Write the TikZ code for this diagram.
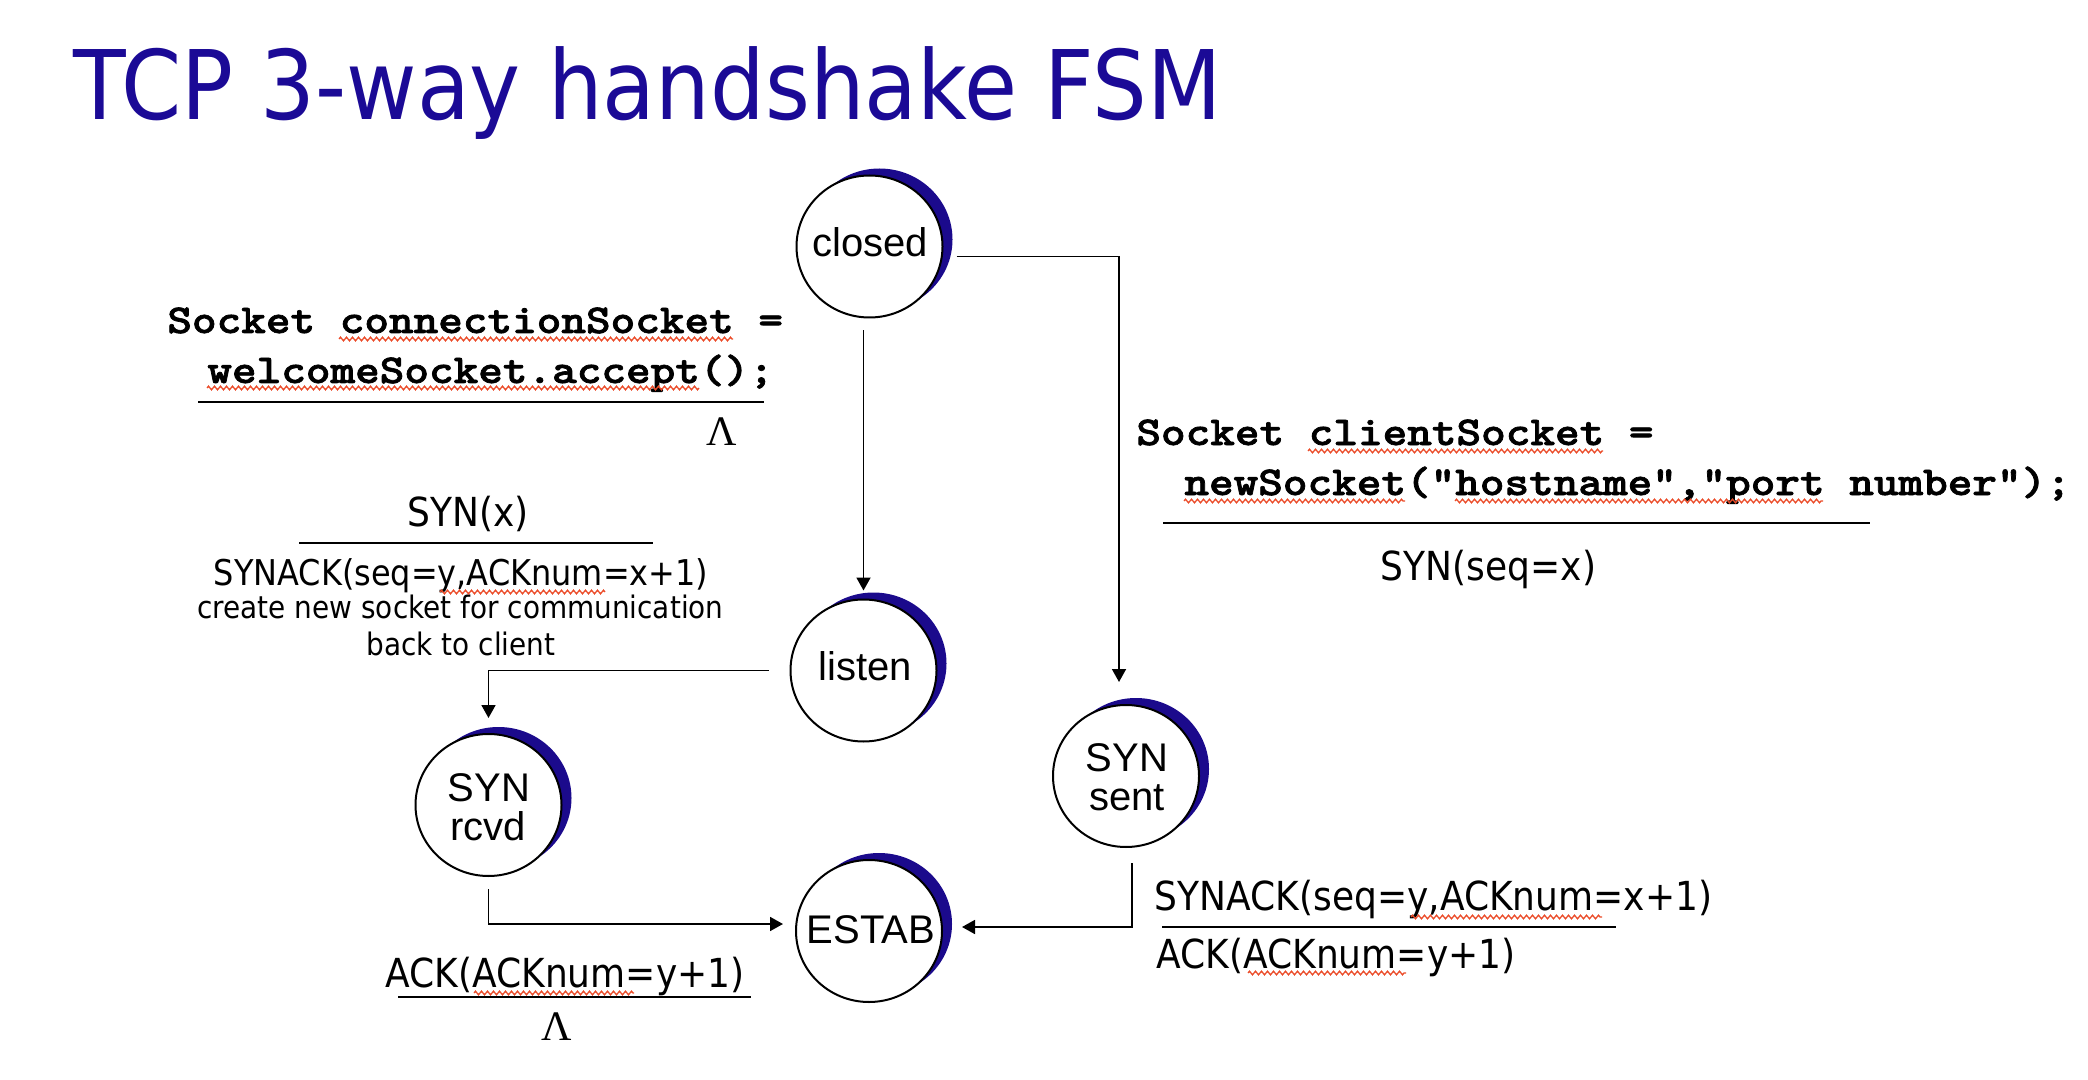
\documentclass[tikz,border=0pt]{standalone}
\usepackage{graphicx}
\usepackage{fontspec}
\setmainfont{Liberation Sans}
\newfontfamily\labelfont{DejaVu Sans}
\newfontfamily\lambdafont{Liberation Serif}
\newfontfamily\codefont{lmmonolt10-bold}[Extension=.otf, FakeBold=1.6]
\usetikzlibrary{shapes.geometric,arrows.meta,calc,shadows,decorations.pathmorphing}

\definecolor{slideblue}{RGB}{27,10,150}
\definecolor{crescent}{RGB}{27,10,140}
\definecolor{spell}{RGB}{235,75,40}

% font size helper (size in pt)
\newcommand\setsz[1]{\fontsize{#1pt}{1.2\dimexpr #1pt\relax}\selectfont}
% transition labels: narrow humanist sans
\newcommand\trans[2]{{\labelfont\setsz{#1}\scalebox{0.9}[1]{#2}}}
% socket code in heavy typewriter
\newcommand\code[1]{{\codefont\setsz{20.5}\scalebox{1.144}[1]{#1}}}

\tikzset{
  state/.style={ellipse, draw, line width=1pt, fill=white,
    minimum width=73pt, minimum height=71pt, inner sep=0pt,
    drop shadow={fill=crescent, opacity=1, shadow xshift=5pt, shadow yshift=3.5pt}},
  txt/.style={inner sep=0pt, anchor=base},
  codeline/.style={inner sep=0pt, anchor=base west},
  arr/.style={-{Triangle[length=6.5pt,width=7pt]}, line width=0.9pt},
  fracrule/.style={line width=1pt},
  squig/.style={spell, line width=0.65pt, decorate,
    decoration={zigzag, segment length=3pt, amplitude=0.9pt}}
}

\begin{document}
\begin{tikzpicture}[x=0.5pt, y=-0.5pt]
\useasboundingbox (0,0) rectangle (2088,1080);

% title
\node[anchor=base west, inner sep=0pt, text=slideblue] (title) at (73,120)
  {\labelfont\setsz{48}\scalebox{0.898}[1]{TCP 3-way handshake FSM}};

% states
\node[state] (closed)  at (869.5,246.5) {};
\node[state] (listen)  at (863.5,670.5) {};
\node[state] (synrcvd) at (488.5,805) {};
\node[state] (synsent) at (1126,776) {};
\node[state] (estab)   at (869,931) {};

\node[txt, font=\setsz{20}] (closedtext) at (870,257) {closed};
\node[txt, font=\setsz{20}] (listentext) at (865,680) {listen};
\node[txt, font=\setsz{20}] (synrcvdtop) at (489,801) {SYN};
\node[txt, font=\setsz{20}] (synrcvdbot) at (488,840) {rcvd};
\node[txt, font=\setsz{20}] (synsenttop) at (1127,771) {SYN};
\node[txt, font=\setsz{20}] (synsentbot) at (1127,810) {sent};
\node[txt, font=\setsz{20}] (estabtext)  at (871,943) {ESTAB};

% transitions
\draw[arr] ($(closed.south -| listen.center)+(0,12)$) -- ($(listen.north)+(0,-8)$);
\draw[arr] ($(closed.east)+(13,10)$) -| ($(synsent.north)+(-7,-22)$);
\draw[arr] ($(listen.west)+(-21,0)$) -| ($(synrcvd.north)+(0,-15)$);
\draw[arr] ($(synrcvd.south)+(0,12)$) |- ($(estab.west)+(-12,-7)$);
\draw[arr] ($(synsent.south)+(6,15)$) |- ($(estab.east)+(19,-4)$);

% server side: accept
\node[codeline] (acc1) at (167,333) {\code{Socket connectionSocket =}};
\node[codeline] (acc2) at (207,383) {\code{welcomeSocket.accept();}};
\draw[fracrule] (198,402) -- (764,402);
\node[txt] (acclambda) at (722,445) {\lambdafont\setsz{21}Λ};

% listen -> SYN rcvd
\node[txt] (synx) at (468,526) {\trans{20}{SYN(x)}};
\draw[fracrule] (299,543) -- (653,543);
\node[txt] (synackl) at (461,585) {\trans{17.75}{SYNACK(seq=y,ACKnum=x+1)}};
\node[txt] (create) at (460.5,618) {\trans{15.5}{create new socket for communication}};
\node[txt] (backto) at (461,655) {\trans{15.5}{back to client}};

% SYN rcvd -> ESTAB
\node[txt] (ackl) at (565,987) {\trans{20}{ACK(ACKnum=y+1)}};
\draw[fracrule] (398,997) -- (751,997);
\node[txt] (acklambda) at (557,1040) {\lambdafont\setsz{21}Λ};

% client side: connect
\node[codeline] (cli1) at (1136,445) {\code{Socket clientSocket =}};
\node[codeline] (cli2) at (1184,495) {\code{newSocket("hostname","port number");}};
\draw[fracrule] (1163,523) -- (1870,523);
\node[txt] (synseq) at (1488.5,580) {\trans{20}{SYN(seq=x)}};

% SYN sent -> ESTAB
\node[txt] (synackr) at (1433.5,910) {\trans{20}{SYNACK(seq=y,ACKnum=x+1)}};
\draw[fracrule] (1162,927) -- (1616,927);
\node[txt] (ackr) at (1336,968) {\trans{20}{ACK(ACKnum=y+1)}};

% spell-check underlines
\draw[squig] (339,339) -- (733,339);
\draw[squig] (207,388) -- (699,388);
\draw[squig] (1308,451) -- (1603,451);
\draw[squig] (1184,501) -- (1405,501);
\draw[squig] (1455,501) -- (1823,501);
\draw[squig] (440,592) -- (605,592);
\draw[squig] (1411,917) -- (1602,917);
\draw[squig] (474,993) -- (634,993);
\draw[squig] (1248,973) -- (1406,973);
\end{tikzpicture}
\end{document}
